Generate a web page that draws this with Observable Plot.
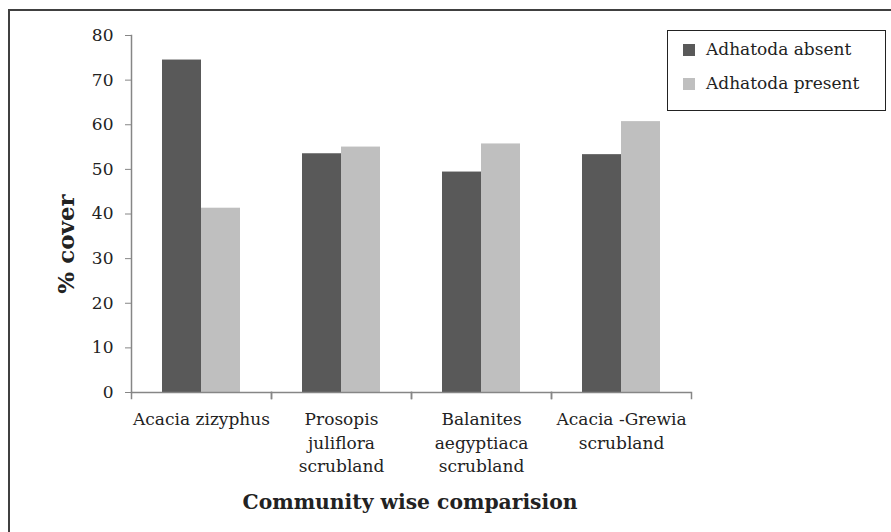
<!DOCTYPE html>
<html>
<head>
<meta charset="utf-8">
<script src="https://cdn.jsdelivr.net/npm/d3@7"></script>
<script src="https://cdn.jsdelivr.net/npm/@observablehq/plot@0.6"></script>
<style>
  html, body { margin: 0; padding: 0; background: #fff; }
  #wrap { position: relative; width: 891px; height: 532px; overflow: hidden; font-family: "DejaVu Serif", serif; color: #222; }
  #border { position: absolute; left: 8px; top: 9px; width: 1000px; height: 1000px; border: 2px solid #404040; box-sizing: border-box; }
  #chart { position: absolute; left: 0; top: 0; }
  #legend { position: absolute; left: 667px; top: 30px; width: 219px; height: 81px; border: 1.5px solid #222; box-sizing: border-box; background: #fff; }
  .item { position: absolute; left: 15px; font-size: 17px; line-height: 19px; white-space: nowrap; }
  .sw { display: inline-block; width: 12px; height: 12px; margin-right: 11px; vertical-align: -1px; }
  #ytitle { position: absolute; left: 65px; top: 244px; transform: translate(-50%, -50%) rotate(-90deg); font-weight: bold; font-size: 23px; white-space: nowrap; }
  #xtitle { position: absolute; left: 410px; top: 502px; transform: translate(-50%, -50%); font-weight: bold; font-size: 20.3px; white-space: nowrap; }
</style>
</head>
<body>
<div id="wrap">
  <div id="border"></div>
  <div id="chart"></div>
  <div id="legend"></div>
  <div id="ytitle">% cover</div>
  <div id="xtitle">Community wise comparision</div>
</div>
<script>
const categories = ["Acacia zizyphus", "Prosopis juliflora scrubland", "Balanites aegyptiaca scrubland", "Acacia -Grewia scrubland"];
const categoryLabels = ["Acacia zizyphus", "Prosopis\njuliflora\nscrubland", "Balanites\naegyptiaca\nscrubland", "Acacia -Grewia\nscrubland"];
const series = ["Adhatoda absent", "Adhatoda present"];
const absentValues = [74.5, 53.5, 49.4, 53.3];
const presentValues = [41.3, 55.0, 55.7, 60.7];
const yTicks = [0, 10, 20, 30, 40, 50, 60, 70, 80];
const colors = ["#595959", "#bfbfbf"];

const rows = [];
categories.forEach((c, i) => {
  rows.push({category: c, series: series[0], value: absentValues[i]});
  rows.push({category: c, series: series[1], value: presentValues[i]});
});
const labelOf = new Map(categories.map((c, i) => [c, categoryLabels[i]]));

const axisGray = "#868686";
const chart = Plot.plot({
  width: 891,
  height: 532,
  marginLeft: 129,
  marginRight: 199,
  marginTop: 35,
  marginBottom: 140,
  style: {fontFamily: "DejaVu Serif, serif", fontSize: "17px", color: "#222", background: "transparent"},
  fx: {domain: categories, padding: 0, label: null},
  x: {domain: series, paddingInner: 0, paddingOuter: 0.76, axis: null},
  y: {domain: [0, 80], label: null},
  color: {domain: series, range: colors},
  marks: [
    Plot.barY(rows, {fx: "category", x: "series", y: "value", fill: "series"}),
    Plot.ruleY([0], {stroke: axisGray, strokeWidth: 1.5}),
    Plot.frame({anchor: "left", stroke: axisGray, strokeWidth: 1.5, insetTop: 357, insetBottom: -6}),
    Plot.frame({anchor: "right", stroke: axisGray, strokeWidth: 1.5, insetTop: 357, insetBottom: -6}),
    Plot.frame({anchor: "left", stroke: axisGray, strokeWidth: 1.5, facetAnchor: "left"}),
    Plot.axisY({ticks: yTicks, tickSize: 6, tickPadding: 12, stroke: axisGray, fill: "#222", fontSize: 17, label: null}),
    Plot.axisFx({anchor: "bottom", tickSize: 0, tickPadding: 16, tickFormat: d => labelOf.get(d), lineHeight: 1.38, fill: "#222", fontSize: 17, label: null})
  ]
});
document.getElementById("chart").appendChild(chart);

const legend = document.getElementById("legend");
series.forEach((s, i) => {
  const item = document.createElement("div");
  item.className = "item";
  item.style.top = (9 + i * 34) + "px";
  const sw = document.createElement("span");
  sw.className = "sw";
  sw.style.background = colors[i];
  item.appendChild(sw);
  item.appendChild(document.createTextNode(s));
  legend.appendChild(item);
});
</script>
</body>
</html>
